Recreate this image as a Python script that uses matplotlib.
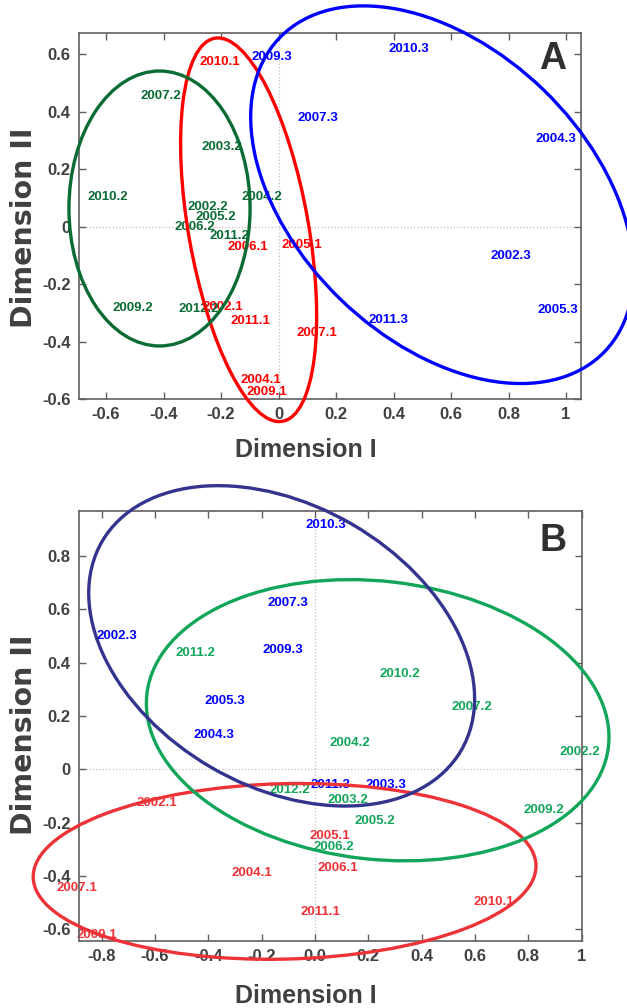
import numpy as np
import matplotlib
matplotlib.use("Agg")
import matplotlib.pyplot as plt
from matplotlib.patches import Ellipse

plt.rcParams['font.family'] = ['Liberation Sans', 'DejaVu Sans']

# ---- panel A data ----
a_names_1 = ["2010.1", "2006.1", "2005.1", "2002.1", "2011.1", "2007.1", "2004.1", "2009.1"]
a_x_1 = [-0.203, -0.106, 0.082, -0.193, -0.099, 0.134, -0.061, -0.041]
a_y_1 = [0.574, -0.070, -0.064, -0.279, -0.330, -0.370, -0.533, -0.577]

a_names_2 = ["2007.2", "2003.2", "2010.2", "2004.2", "2002.2", "2005.2", "2006.2", "2011.2", "2009.2", "2012.2"]
a_x_2 = [-0.409, -0.197, -0.593, -0.058, -0.245, -0.218, -0.290, -0.172, -0.506, -0.277]
a_y_2 = [0.456, 0.278, 0.103, 0.103, 0.069, 0.034, 0.000, -0.032, -0.284, -0.287]

a_names_3 = ["2009.3", "2010.3", "2007.3", "2004.3", "2002.3", "2005.3", "2011.3"]
a_x_3 = [-0.023, 0.454, 0.137, 0.965, 0.808, 0.971, 0.382]
a_y_3 = [0.591, 0.617, 0.377, 0.304, -0.101, -0.290, -0.325]

# ellipses: centre x, centre y, major, minor, angle (deg)
a_ell_1 = (-0.104, -0.011, 1.354, 0.417, 100.0)
a_ell_2 = (-0.414, 0.063, 0.957, 0.630, 90.0)
a_ell_3 = (0.569, 0.111, 1.572, 1.015, -44.1)

# ---- panel B data ----
b_names_1 = ["2002.1", "2005.1", "2006.1", "2004.1", "2007.1", "2011.1", "2010.1", "2009.1"]
b_x_1 = [-0.592, 0.054, 0.087, -0.235, -0.892, 0.019, 0.669, -0.819]
b_y_1 = [-0.125, -0.250, -0.369, -0.390, -0.447, -0.534, -0.497, -0.622]

b_names_2 = ["2011.2", "2010.2", "2007.2", "2004.2", "2002.2", "2012.2", "2003.2", "2009.2", "2005.2", "2006.2"]
b_x_2 = [-0.450, 0.319, 0.588, 0.131, 0.994, -0.094, 0.123, 0.859, 0.225, 0.072]
b_y_2 = [0.438, 0.358, 0.233, 0.098, 0.064, -0.078, -0.115, -0.153, -0.193, -0.293]

b_names_3 = ["2010.3", "2007.3", "2002.3", "2009.3", "2005.3", "2004.3", "2011.3", "2003.3"]
b_x_3 = [0.041, -0.100, -0.742, -0.121, -0.338, -0.379, 0.059, 0.266]
b_y_3 = [0.917, 0.623, 0.500, 0.448, 0.257, 0.129, -0.059, -0.059]

b_ell_1 = (-0.114, -0.383, 1.886, 0.658, 1.4)
b_ell_2 = (0.235, 0.184, 1.742, 1.043, -6.5)
b_ell_3 = (-0.125, 0.463, 1.558, 1.054, -30.2)

a_xticks = [-0.6, -0.4, -0.2, 0, 0.2, 0.4, 0.6, 0.8, 1]
a_xlabels = ["-0.6", "-0.4", "-0.2", "0", "0.2", "0.4", "0.6", "0.8", "1"]
a_yticks = [-0.6, -0.4, -0.2, 0, 0.2, 0.4, 0.6]
a_ylabels = ["-0.6", "-0.4", "-0.2", "0", "0.2", "0.4", "0.6"]
b_xticks = [-0.8, -0.6, -0.4, -0.2, 0, 0.2, 0.4, 0.6, 0.8, 1]
b_xlabels = ["-0.8", "-0.6", "-0.4", "-0.2", "0.0", "0.2", "0.4", "0.6", "0.8", "1"]
b_yticks = [-0.6, -0.4, -0.2, 0, 0.2, 0.4, 0.6, 0.8]
b_ylabels = ["-0.6", "-0.4", "-0.2", "0", "0.2", "0.4", "0.6", "0.8"]

GREY = "#404040"


def style_axes(ax, xlim, ylim, xt, xl, yt, yl, letter, ylab_y, xlab_y):
    ax.set_xlim(*xlim)
    ax.set_ylim(*ylim)
    ax.set_xticks(xt)
    ax.set_xticklabels(xl)
    ax.set_yticks(yt)
    ax.set_yticklabels(yl)
    ax.tick_params(direction="in", top=True, right=True, length=5, width=1,
                   color="#606060", labelsize=12, labelcolor=GREY, pad=6)
    for lab in ax.get_xticklabels() + ax.get_yticklabels():
        lab.set_fontweight("bold")
    for sp in ax.spines.values():
        sp.set_color("#606060")
        sp.set_linewidth(1.2)
    ax.axhline(0, color="#C0C0C0", ls=":", lw=0.9, zorder=0)
    ax.axvline(0, color="#C0C0C0", ls=":", lw=0.9, zorder=0)
    ax.set_xlabel("Dimension I", fontsize=18, fontweight="bold", color=GREY)
    ax.xaxis.set_label_coords(0.452, xlab_y)
    ax.set_ylabel("Dimension II", fontsize=20.5, fontweight="bold", color=GREY,
                  family=["DejaVu Sans"])
    ax.yaxis.set_label_coords(-0.082, ylab_y)
    ax.text(0.97, 0.93, letter, transform=ax.transAxes, ha="right", va="center",
            fontsize=27, fontweight="bold", color="#303030")


def put_labels(ax, names, xs, ys, color, size=9.5):
    for n, x, y in zip(names, xs, ys):
        ax.text(x, y, n, color=color, fontsize=size, fontweight="bold",
                ha="center", va="center", zorder=2, clip_on=False)


def put_ellipse(ax, ell, color):
    cx, cy, w, h, ang = ell
    e = Ellipse((cx, cy), w, h, angle=ang, fill=False, edgecolor=color,
                lw=2.4, zorder=3, clip_on=False)
    ax.add_patch(e)


fig = plt.figure(figsize=(6.27, 10.08), dpi=100)
axA = fig.add_axes([0.126, 0.6042, 0.8006, 0.3631])
axB = fig.add_axes([0.126, 0.0665, 0.8017, 0.4266])

# panel A
style_axes(axA, (-0.694, 1.052), (-0.6, 0.674), a_xticks, a_xlabels, a_yticks, a_ylabels,
           "A", 0.467, -0.108)
put_labels(axA, a_names_1, a_x_1, a_y_1, "#FF0000")
put_labels(axA, a_names_2, a_x_2, a_y_2, "#0B6B35")
put_labels(axA, a_names_3, a_x_3, a_y_3, "#0000FF")
put_ellipse(axA, a_ell_1, "#FF0000")
put_ellipse(axA, a_ell_2, "#0B6B35")
put_ellipse(axA, a_ell_3, "#0000FF")

# panel B
style_axes(axB, (-0.885, 1.0), (-0.644, 0.969), b_xticks, b_xlabels, b_yticks, b_ylabels,
           "B", 0.479, -0.100)
put_labels(axB, b_names_1, b_x_1, b_y_1, "#EE3338")
put_labels(axB, b_names_2, b_x_2, b_y_2, "#12A65A")
put_labels(axB, b_names_3, b_x_3, b_y_3, "#0000FF")
put_ellipse(axB, b_ell_1, "#EE3338")
put_ellipse(axB, b_ell_2, "#12A65A")
put_ellipse(axB, b_ell_3, "#33348E")

fig.savefig("out.png", dpi=100)
